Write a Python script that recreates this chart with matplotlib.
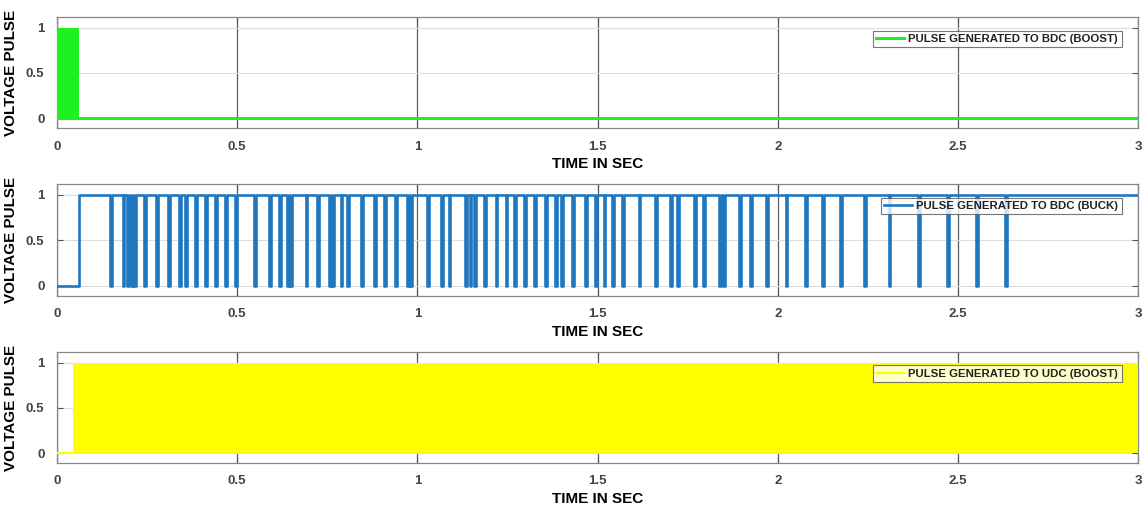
import numpy as np
import matplotlib
matplotlib.use("Agg")
import matplotlib.pyplot as plt

plt.rcParams['font.family'] = ['Liberation Sans', 'DejaVu Sans']

# ---------- datos ----------
T_END = 3.0
x_ticks = [0, 0.5, 1, 1.5, 2, 2.5, 3]
x_tick_labels = ["0", "0.5", "1", "1.5", "2", "2.5", "3"]
y_ticks = [0, 0.5, 1]
y_tick_labels = ["0", "0.5", "1"]

# BDC boost: conmutacion densa (banda 0..1) entre estos instantes, luego 0
bdc_boost_band = [0.0, 0.06]

# BDC buck: 0 hasta la subida, luego 1 con caidas breves a 0
buck_rise = 0.062
buck_dips = [0.147, 0.182, 0.194, 0.205, 0.215, 0.242, 0.275, 0.308, 0.338, 0.356,
             0.384, 0.412, 0.439, 0.467, 0.495, 0.546, 0.588, 0.616, 0.639, 0.648,
             0.690, 0.722, 0.755, 0.764, 0.787, 0.806, 0.843, 0.880, 0.907, 0.939,
             0.972, 0.981, 1.028, 1.066, 1.087, 1.133, 1.145, 1.157, 1.185, 1.217,
             1.245, 1.268, 1.296, 1.324, 1.355, 1.383, 1.399, 1.429, 1.466, 1.494,
             1.517, 1.540, 1.568, 1.614, 1.660, 1.702, 1.721, 1.767, 1.792, 1.837,
             1.849, 1.893, 1.924, 1.967, 2.022, 2.076, 2.124, 2.174, 2.240, 2.308,
             2.390, 2.470, 2.550, 2.630]
buck_dip_width = 0.005

# UDC boost: 0 hasta el arranque, luego conmutacion densa hasta el final
udc_boost_band = [0.045, 3.0]

labels = ["PULSE GENERATED TO BDC (BOOST)",
          "PULSE GENERATED TO BDC (BUCK)",
          "PULSE GENERATED TO UDC (BOOST)"]
colors = ["#1ff01f", "#1f77c0", "#ffff00"]

# ---------- señal buck ----------
t_buck = [0.0, buck_rise, buck_rise]
y_buck = [0, 0, 1]
for d in buck_dips:
    t_buck += [d, d, d + buck_dip_width, d + buck_dip_width]
    y_buck += [1, 0, 0, 1]
t_buck.append(T_END)
y_buck.append(1)

# ---------- figura ----------
fig = plt.figure(figsize=(11.44, 5.09), dpi=100)
positions = [[0.0498, 0.7485, 0.945, 0.218],
             [0.0498, 0.4185, 0.945, 0.220],
             [0.0498, 0.0904, 0.945, 0.218]]
axes = [fig.add_axes(p) for p in positions]

ax = axes[0]
ax.fill_between(bdc_boost_band, 0, 1, color=colors[0], lw=0, zorder=3)
ax.plot([0, T_END], [0, 0], color=colors[0], lw=2.2, zorder=3, label=labels[0])

ax = axes[1]
ax.plot(t_buck, y_buck, color=colors[1], lw=1.9, zorder=3, label=labels[1])

ax = axes[2]
ax.plot([0, udc_boost_band[0]], [0, 0], color=colors[2], lw=1.5, zorder=3)
ax.fill_between(udc_boost_band, 0, 1, color=colors[2], lw=0, zorder=3)
ax.plot([], [], color=colors[2], lw=1.5, label=labels[2])

for ax in axes:
    ax.set_xlim(0, T_END)
    ax.set_ylim(-0.11, 1.12)
    ax.set_xticks(x_ticks)
    ax.set_xticklabels(x_tick_labels)
    ax.set_yticks(y_ticks)
    ax.set_yticklabels(y_tick_labels)
    ax.tick_params(direction="in", length=4, width=0.8, colors="#555555",
                   labelsize=9.5, top=True, right=True, pad=9)
    for lab in ax.get_xticklabels() + ax.get_yticklabels():
        lab.set_fontweight("bold")
        lab.set_color("#444444")
    ax.grid(axis="x", color="#333333", lw=0.9, alpha=0.8, zorder=1)
    ax.grid(axis="y", color="#dddddd", lw=0.8, zorder=1)
    ax.set_axisbelow(True)
    for s in ax.spines.values():
        s.set_color("#888888")
        s.set_linewidth(0.9)
    ax.set_xlabel("TIME IN SEC", fontsize=11, fontweight="bold", labelpad=3)
    ax.set_ylabel("VOLTAGE PULSE", fontsize=11, fontweight="bold", labelpad=6)
    leg = ax.legend(loc="upper right", fontsize=8.2, frameon=True, fancybox=False,
                    handlelength=2.4, borderpad=0.3, handletextpad=0.4,
                    bbox_to_anchor=(0.99, 0.93))
    leg.get_frame().set_edgecolor("#555555")
    leg.get_frame().set_linewidth(0.8)
    for txt in leg.get_texts():
        txt.set_fontweight("bold")
        txt.set_color("#222222")
    leg.set_zorder(5)

fig.savefig("out.png", dpi=100)
